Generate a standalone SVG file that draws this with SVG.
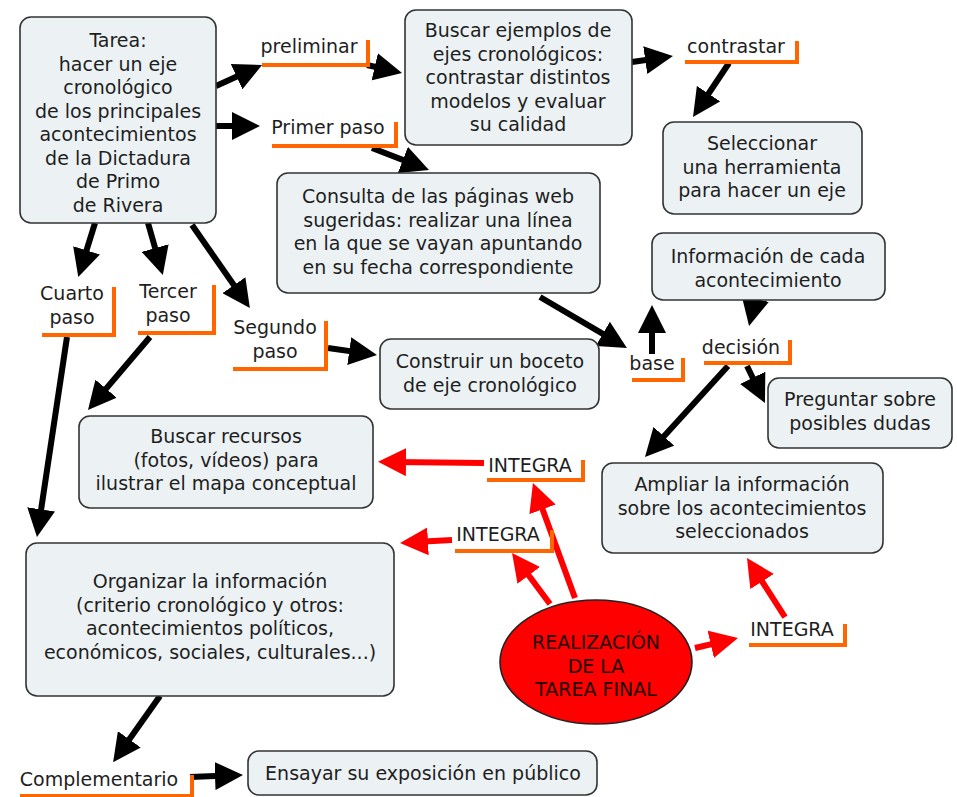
<svg xmlns="http://www.w3.org/2000/svg" width="957" height="797" viewBox="0 0 957 797">
<defs>
<style>
.box{fill:#ecf2f4;stroke:#333;stroke-width:1.6}
.t{font-family:"DejaVu Sans",Verdana,sans-serif;font-size:19px;fill:#1e1e1e;text-anchor:middle}
.br{fill:none;stroke:#ff6600;stroke-width:4;stroke-linejoin:miter}
.k{fill:none;stroke:#000;stroke-width:6;marker-end:url(#hk)}
.r{fill:none;stroke:#ff0000;stroke-width:6;marker-end:url(#hr)}
</style>
<marker id="hk" markerUnits="userSpaceOnUse" markerWidth="28" markerHeight="28" refX="13" refY="14" orient="auto"><path d="M0,0 L28,14 L0,28 z" fill="#000"/></marker>
<marker id="hr" markerUnits="userSpaceOnUse" markerWidth="28" markerHeight="28" refX="13" refY="14" orient="auto"><path d="M0,0 L28,14 L0,28 z" fill="#ff0000"/></marker>
</defs>
<rect width="957" height="797" fill="#fff"/>

<g id="connectors">
<path class="k" d="M216,86 L248.4,71.2"/>
<path class="k" d="M367,65 L387.4,69.7"/>
<path class="k" d="M216,126 L245,126"/>
<path class="k" d="M372,148 L415,164.6"/>
<path class="k" d="M632,62 L658.1,58.2"/>
<path class="k" d="M729,63 L701.3,104.5"/>
<path class="k" d="M540,297 L614,340.4"/>
<path class="k" d="M652,354 L652,320"/>
<path class="k" d="M755,300 L752.4,311.4"/>
<path class="k" d="M747,366 L758.4,389.5"/>
<path class="k" d="M728,366 L655.1,445.9"/>
<path class="k" d="M192,225 L241.3,295.8"/>
<path class="k" d="M95,223 L82.7,262.7"/>
<path class="k" d="M148,223 L158.7,260.6"/>
<path class="k" d="M150,337 L97.7,398.6"/>
<path class="k" d="M67,337 L39.2,522.2"/>
<path class="k" d="M328,348 L362.1,352.9"/>
<path class="k" d="M160,696 L121.8,749.9"/>
<path class="k" d="M190,777 L228,775.6"/>
<path class="r" d="M484,463 L393,462"/>
<path class="r" d="M452,540 L415,542.1"/>
<path class="r" d="M575,598 L538.1,497.1"/>
<path class="r" d="M550,604 L521,565"/>
<path class="r" d="M695,648 L723.4,641.4"/>
<path class="r" d="M785,617 L755.1,570.6"/>
</g>

<g id="tarea">
<rect class="box" x="20" y="17" width="196" height="206" rx="11"/>
<text class="t" x="118" y="47">Tarea:</text>
<text class="t" x="118" y="70.5">hacer un eje</text>
<text class="t" x="118" y="94">cronológico</text>
<text class="t" x="118" y="117.5">de los principales</text>
<text class="t" x="118" y="141">acontecimientos</text>
<text class="t" x="118" y="164.5">de la Dictadura</text>
<text class="t" x="118" y="188">de Primo</text>
<text class="t" x="118" y="211.5">de Rivera</text>
</g>

<g id="buscar-ejemplos">
<rect class="box" x="405" y="10" width="227" height="135" rx="11"/>
<text class="t" x="518" y="37">Buscar ejemplos de</text>
<text class="t" x="518" y="60.5">ejes cronológicos:</text>
<text class="t" x="518" y="84">contrastar distintos</text>
<text class="t" x="518" y="107.5">modelos y evaluar</text>
<text class="t" x="518" y="131">su calidad</text>
</g>

<g id="seleccionar">
<rect class="box" x="663" y="122" width="199" height="92" rx="11"/>
<text class="t" x="762" y="150">Seleccionar</text>
<text class="t" x="762" y="173.5">una herramienta</text>
<text class="t" x="762" y="197">para hacer un eje</text>
</g>

<g id="consulta">
<rect class="box" x="277" y="173" width="323" height="120" rx="11"/>
<text class="t" x="438" y="203">Consulta de las páginas web</text>
<text class="t" x="438" y="226.5">sugeridas: realizar una línea</text>
<text class="t" x="438" y="250">en la que se vayan apuntando</text>
<text class="t" x="438" y="273.5">en su fecha correspondiente</text>
</g>

<g id="informacion">
<rect class="box" x="652" y="233" width="233" height="67" rx="11"/>
<text class="t" x="768" y="263">Información de cada</text>
<text class="t" x="768" y="286.5">acontecimiento</text>
</g>

<g id="construir">
<rect class="box" x="380" y="339" width="219" height="70" rx="11"/>
<text class="t" x="490" y="368">Construir un boceto</text>
<text class="t" x="490" y="391.5">de eje cronológico</text>
</g>

<g id="preguntar">
<rect class="box" x="768" y="378" width="184" height="70" rx="11"/>
<text class="t" x="860" y="406">Preguntar sobre</text>
<text class="t" x="860" y="429.5">posibles dudas</text>
</g>

<g id="buscar-recursos">
<rect class="box" x="79" y="416" width="294" height="92" rx="11"/>
<text class="t" x="226" y="443">Buscar recursos</text>
<text class="t" x="226" y="466.5">(fotos, vídeos) para</text>
<text class="t" x="226" y="490">ilustrar el mapa conceptual</text>
</g>

<g id="ampliar">
<rect class="box" x="602" y="463" width="281" height="90" rx="11"/>
<text class="t" x="742" y="491">Ampliar la información</text>
<text class="t" x="742" y="514.5">sobre los acontecimientos</text>
<text class="t" x="742" y="538">seleccionados</text>
</g>

<g id="organizar">
<rect class="box" x="26" y="543" width="368" height="153" rx="11"/>
<text class="t" x="210" y="588">Organizar la información</text>
<text class="t" x="210" y="611.5">(criterio cronológico y otros:</text>
<text class="t" x="210" y="635">acontecimientos políticos,</text>
<text class="t" x="210" y="658.5">económicos, sociales, culturales...)</text>
</g>

<g id="ensayar">
<rect class="box" x="248" y="751" width="349" height="44" rx="11"/>
<text class="t" x="423" y="780">Ensayar su exposición en público</text>
</g>

<g id="realizacion">
<ellipse cx="596" cy="662" rx="96" ry="62" fill="#ff0000" stroke="#222" stroke-width="1.6"/>
<text class="t" x="596" y="649" style="fill:#1a0000">REALIZACIÓN</text>
<text class="t" x="596" y="672.5" style="fill:#1a0000">DE LA</text>
<text class="t" x="596" y="696" style="fill:#1a0000">TAREA FINAL</text>
</g>

<g id="lbl-preliminar">
<text class="t" x="309" y="53">preliminar</text>
<path class="br" d="M262,65 L368,65 L368,40"/>
</g>
<g id="lbl-primer">
<text class="t" x="328" y="134">Primer paso</text>
<path class="br" d="M272,146 L396,146 L396,122"/>
</g>
<g id="lbl-contrastar">
<text class="t" x="736" y="53">contrastar</text>
<path class="br" d="M685,62 L797,62 L797,41"/>
</g>
<g id="lbl-base">
<text class="t" x="652" y="370">base</text>
<path class="br" d="M632,380 L683,380 L683,358"/>
</g>
<g id="lbl-decision">
<text class="t" x="741" y="354">decisión</text>
<path class="br" d="M704,363 L790,363 L790,340"/>
</g>
<g id="lbl-segundo">
<text class="t" x="275" y="334">Segundo</text>
<text class="t" x="275" y="358">paso</text>
<path class="br" d="M233,369 L326,369 L326,321"/>
</g>
<g id="lbl-cuarto">
<text class="t" x="72" y="300">Cuarto</text>
<text class="t" x="72" y="323.5">paso</text>
<path class="br" d="M42,335 L114,335 L114,287"/>
</g>
<g id="lbl-tercer">
<text class="t" x="168" y="298">Tercer</text>
<text class="t" x="168" y="321.5">paso</text>
<path class="br" d="M138,333 L214,333 L214,285"/>
</g>
<g id="lbl-integra1">
<text class="t" x="530" y="472">INTEGRA</text>
<path class="br" d="M487,480 L583,480 L583,460"/>
</g>
<g id="lbl-integra2">
<text class="t" x="498" y="541">INTEGRA</text>
<path class="br" d="M455,551 L552,551 L552,530"/>
</g>
<g id="lbl-integra3">
<text class="t" x="792" y="636">INTEGRA</text>
<path class="br" d="M749,645 L845,645 L845,624"/>
</g>
<g id="lbl-complementario">
<text class="t" x="99" y="786">Complementario</text>
<path class="br" d="M20,796 L192,796 L192,775"/>
</g>
</svg>
